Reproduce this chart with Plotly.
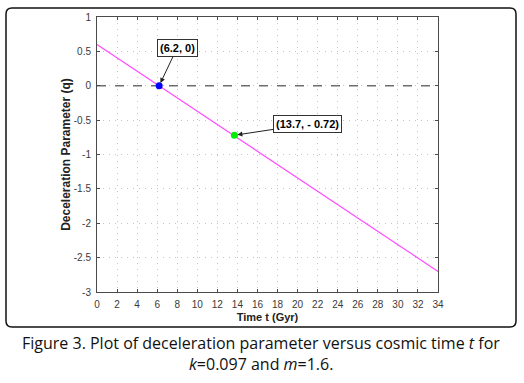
import plotly.graph_objects as go

# Data
t_line = [0, 34]
q_line = [0.6, -2.7]
t_zero = [0, 34]
q_zero = [0, 0]
pt1 = (6.2, 0.0)
pt2 = (13.7, -0.72)
x_ticks = list(range(0, 35, 2))
y_ticks = [1, 0.5, 0, -0.5, -1, -1.5, -2, -2.5, -3]
y_tick_text = ["1", "0.5", "0", "-0.5", "-1", "-1.5", "-2", "-2.5", "-3"]

W, H = 524, 383
L, R, T, B = 97, 438, 17, 292

fig = go.Figure()
fig.add_trace(go.Scatter(x=t_zero, y=q_zero, mode="lines",
                         line=dict(color="#6e6e6e", width=1.5, dash="dash"),
                         showlegend=False, hoverinfo="skip"))
fig.add_trace(go.Scatter(x=t_line, y=q_line, mode="lines",
                         line=dict(color="#ff4dff", width=1.2),
                         showlegend=False))
fig.add_trace(go.Scatter(x=[pt1[0]], y=[pt1[1]], mode="markers",
                         marker=dict(color="#0000ff", size=7),
                         showlegend=False))
fig.add_trace(go.Scatter(x=[pt2[0]], y=[pt2[1]], mode="markers",
                         marker=dict(color="#00ee00", size=7),
                         showlegend=False))

ann_font = dict(family="Arial", size=11, color="#000000")
fig.add_annotation(x=pt1[0], y=pt1[1], text="<b>(6.2, 0)</b>",
                   ax=18, ay=-38, showarrow=True, arrowhead=2, arrowsize=1,
                   arrowwidth=1, arrowcolor="#222222", standoff=3,
                   bgcolor="white", bordercolor="#333333", borderwidth=1,
                   borderpad=2, font=ann_font)
fig.add_annotation(x=pt2[0], y=pt2[1], text="<b>(13.7, - 0.72)</b>",
                   ax=73, ay=-11, showarrow=True, arrowhead=2, arrowsize=1,
                   arrowwidth=1, arrowcolor="#222222", standoff=3,
                   bgcolor="white", bordercolor="#333333", borderwidth=1,
                   borderpad=2, font=ann_font)

pw, ph = R - L, B - T
def px(x):
    return (x - L) / pw
def py(y):
    return (B - y) / ph

# rounded outer frame
x0, x1, y0, y1, r = 6, 516, 8, 327, 6
path = (f"M {px(x0+r)} {py(y0)} L {px(x1-r)} {py(y0)} Q {px(x1)} {py(y0)} {px(x1)} {py(y0+r)} "
        f"L {px(x1)} {py(y1-r)} Q {px(x1)} {py(y1)} {px(x1-r)} {py(y1)} "
        f"L {px(x0+r)} {py(y1)} Q {px(x0)} {py(y1)} {px(x0)} {py(y1-r)} "
        f"L {px(x0)} {py(y0+r)} Q {px(x0)} {py(y0)} {px(x0+r)} {py(y0)} Z")
fig.add_shape(type="path", path=path, xref="paper", yref="paper",
              line=dict(color="#111111", width=1.5), layer="below")

cap_font = dict(family="Open Sans", size=16, color="#111111")
fig.add_annotation(x=px(261), y=py(343), xref="paper", yref="paper",
                   text="Figure 3. Plot of deceleration parameter versus cosmic time <i>t</i> for",
                   showarrow=False, font=cap_font, xanchor="center", yanchor="middle")
fig.add_annotation(x=px(261), y=py(364), xref="paper", yref="paper",
                   text="<i>k</i>=0.097 and <i>m</i>=1.6.",
                   showarrow=False, font=cap_font, xanchor="center", yanchor="middle")

axis_common = dict(showline=True, linecolor="#4a4a4a", linewidth=1, mirror="ticks",
                   ticks="inside", ticklen=3, tickcolor="#4a4a4a",
                   showgrid=True, gridcolor="#c4c4c4", griddash="1px,5px", gridwidth=1,
                   zeroline=False, tickfont=dict(family="Arial", size=10, color="#3a3a3a"))

fig.update_xaxes(range=[0, 34], tickvals=x_ticks, ticklabelstandoff=3, **axis_common,
                 title=dict(text="<b>Time t (Gyr)</b>", standoff=4,
                            font=dict(family="Arial", size=11, color="#222222")))
fig.update_yaxes(range=[-3, 1], tickvals=y_ticks, ticktext=y_tick_text, ticklabelstandoff=3,
                 **axis_common,
                 title=dict(text="<b>Deceleration Parameter (q)</b>", standoff=0,
                            font=dict(family="Arial", size=12, color="#222222")))

fig.update_layout(width=W, height=H, margin=dict(l=L, r=W - R, t=T, b=H - B),
                  paper_bgcolor="white", plot_bgcolor="white")
fig.write_html("out.html", config={"displayModeBar": False},
               post_script="document.body.style.margin='0';document.body.style.overflow='hidden';")
